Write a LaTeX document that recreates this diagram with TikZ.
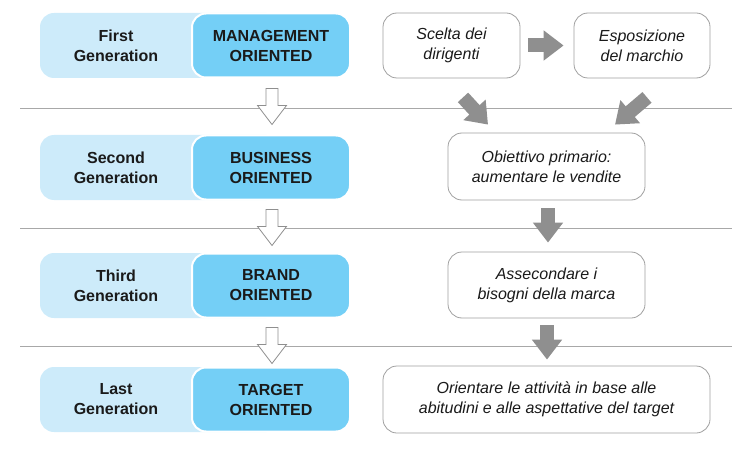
\documentclass[tikz,border=0pt]{standalone}
\usepackage{fontspec}
\setmainfont{Liberation Sans}
\usetikzlibrary{arrows.meta,calc}
\definecolor{lightblue}{HTML}{CDEBFA}
\definecolor{darkblue}{HTML}{74CFF6}
\definecolor{arrowgray}{HTML}{8F8F8F}
\definecolor{bordergray}{HTML}{A0A0A0}
\definecolor{sepgray}{HTML}{A8A8A8}
\definecolor{txt}{HTML}{1A1A1A}
\tikzset{
  lightfill/.style={fill=lightblue, rounded corners=14pt},
  gentext/.style={align=center, text=txt, font=\fontsize{16}{20}\selectfont\bfseries, inner sep=0pt},
  darkbox/.style={fill=darkblue, draw=white, line width=2pt, rounded corners=14pt,
    minimum width=158pt, minimum height=64pt, align=center, text=txt,
    font=\fontsize{16}{20}\selectfont\bfseries, inner sep=0pt},
  notebox/.style={draw=bordergray, line width=0.8pt, fill=white, rounded corners=14pt,
    align=center, text=txt, font=\fontsize{16}{20}\selectfont\itshape, inner sep=0pt},
  sepline/.style={draw=sepgray, line width=0.8pt},
  grayarrow/.style={draw=arrowgray, line width=14pt,
    -{Triangle[length=20pt,width=29pt]}},
  hollowarrow/.pic={\draw[draw=arrowgray, line width=0.8pt, fill=white, line join=miter]
    (-6,0) -- (6,0) -- (6,17) -- (14.5,17) -- (0,36) -- (-14.5,17) -- (-6,17) -- cycle;}
}
\begin{document}
\begin{tikzpicture}[x=1pt,y=-1pt]
\useasboundingbox (0,0) rectangle (754,449);
% separator lines
\draw[sepline] (20,108) -- (732,108);
\draw[sepline] (20,228) -- (732,228);
\draw[sepline] (20,346) -- (732,346);
% left column
\fill[lightfill] (40,13) rectangle (280,78);
\fill[lightfill] (40,135) rectangle (280,200);
\fill[lightfill] (40,253) rectangle (280,318);
\fill[lightfill] (40,367) rectangle (280,432);
\node[gentext] (L1) at (116,45.5) {First\\Generation};
\node[gentext] (L2) at (116,167.5) {Second\\Generation};
\node[gentext] (L3) at (116,285.5) {Third\\Generation};
\node[gentext] (L4) at (116,399.5) {Last\\Generation};
\node[darkbox] (D1) at (271,45.5) {MANAGEMENT\\ORIENTED};
\node[darkbox] (D2) at (271,167.5) {BUSINESS\\ORIENTED};
\node[darkbox] (D3) at (271,285.5) {BRAND\\ORIENTED};
\node[darkbox] (D4) at (271,399.5) {TARGET\\ORIENTED};
\pic at ($(D1.south)+(1,10)$) {hollowarrow};
\pic at ($(D2.south)+(1,9)$) {hollowarrow};
\pic at ($(D3.south)+(1,9)$) {hollowarrow};
% right column
\node[notebox, minimum width=137pt, minimum height=65pt] (S1) at (451.5,45.5) {Scelta dei\\dirigenti};
\node[notebox, minimum width=136pt, minimum height=65pt] (E1) at (642,45.5) {Esposizione\\del marchio};
\node[notebox, minimum width=197pt, minimum height=67pt] (O2) at (546.5,166.5) {Obiettivo primario:\\aumentare le vendite};
\node[notebox, minimum width=197pt, minimum height=66pt] (A3) at (546.5,285) {Assecondare i\\bisogni della marca};
\node[notebox, minimum width=327pt, minimum height=67pt] (O4) at (546.5,399.5) {Orientare le attività in base alle\\abitudini e alle aspettative del target};
\draw[grayarrow] ($(S1.east)+(8,0)$) -- ($(E1.west)+(-10,0)$);
\draw[grayarrow] ($(S1.south)+(11.5,19)$) -- ($(O2.north)+(-58.5,-8)$);
\draw[grayarrow] ($(E1.south)+(5,19)$) -- ($(O2.north)+(68.5,-8)$);
\draw[grayarrow] ($(O2.south)+(1.5,8)$) -- ($(A3.north)+(1.5,-9)$);
\draw[grayarrow] ($(A3.south)+(0.5,7)$) -- ($(O4.north)+(0.5,-6)$);
\end{tikzpicture}
\end{document}
